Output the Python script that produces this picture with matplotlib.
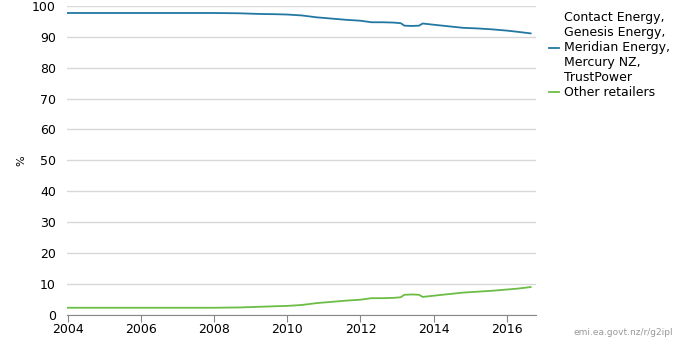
import numpy as np
import matplotlib
matplotlib.use("Agg")
import matplotlib.pyplot as plt

# decimal years
years = [2004.0, 2005.0, 2006.0, 2007.0, 2008.0, 2008.7, 2009.2, 2009.7, 2010.0,
         2010.4, 2010.8, 2011.2, 2011.6, 2012.0, 2012.3, 2012.6, 2012.9, 2013.1,
         2013.2, 2013.4, 2013.6, 2013.7, 2014.0, 2014.4, 2014.8, 2015.2, 2015.6,
         2016.0, 2016.3, 2016.65]
big_five = [97.7, 97.7, 97.7, 97.7, 97.7, 97.6, 97.4, 97.3, 97.2,
            96.9, 96.3, 95.9, 95.5, 95.2, 94.7, 94.7, 94.6, 94.4,
            93.6, 93.5, 93.6, 94.3, 93.9, 93.4, 92.9, 92.7, 92.4,
            92.0, 91.6, 91.1]
others = [2.3, 2.3, 2.3, 2.3, 2.3, 2.4, 2.6, 2.8, 2.9,
          3.2, 3.8, 4.2, 4.6, 4.9, 5.4, 5.4, 5.5, 5.7,
          6.5, 6.6, 6.5, 5.8, 6.2, 6.7, 7.2, 7.5, 7.8,
          8.2, 8.5, 9.0]

labels = ["Contact Energy,\nGenesis Energy,\nMeridian Energy,\nMercury NZ,\nTrustPower",
          "Other retailers"]
colors = ["#2278a3", "#6bbd45"]

fig = plt.figure(figsize=(6.9, 3.46), dpi=100)
ax = fig.add_axes([0.097, 0.09, 0.68, 0.893])

ax.plot(years, big_five, color=colors[0], lw=1.3, label=labels[0])
ax.plot(years, others, color=colors[1], lw=1.3, label=labels[1])

ax.set_xlim(2004 - 0.02, 2016.8)
ax.set_ylim(0, 100)
ax.set_yticks(range(0, 101, 10))
ax.set_xticks(range(2004, 2017, 2))
ax.grid(axis="y", color="#d8d8d8", lw=1)
ax.set_axisbelow(True)
for s in ["top", "right", "left"]:
    ax.spines[s].set_visible(False)
ax.spines["bottom"].set_color("#888888")
ax.tick_params(axis="y", length=0, labelsize=9, pad=8)
ax.tick_params(axis="x", length=5, color="#888888", labelsize=9, pad=1)
ax.set_ylabel("%", fontsize=8, labelpad=4)

leg = ax.legend(loc="upper left", bbox_to_anchor=(1.008, 1.012), frameon=False,
                fontsize=9, handlelength=0.8, handletextpad=0.4,
                labelspacing=0.2, borderaxespad=0.3)

fig.text(0.975, 0.04, "emi.ea.govt.nz/r/g2ipl", ha="right", va="center",
         fontsize=6.5, color="#999999")

fig.savefig("out.png", dpi=100)
